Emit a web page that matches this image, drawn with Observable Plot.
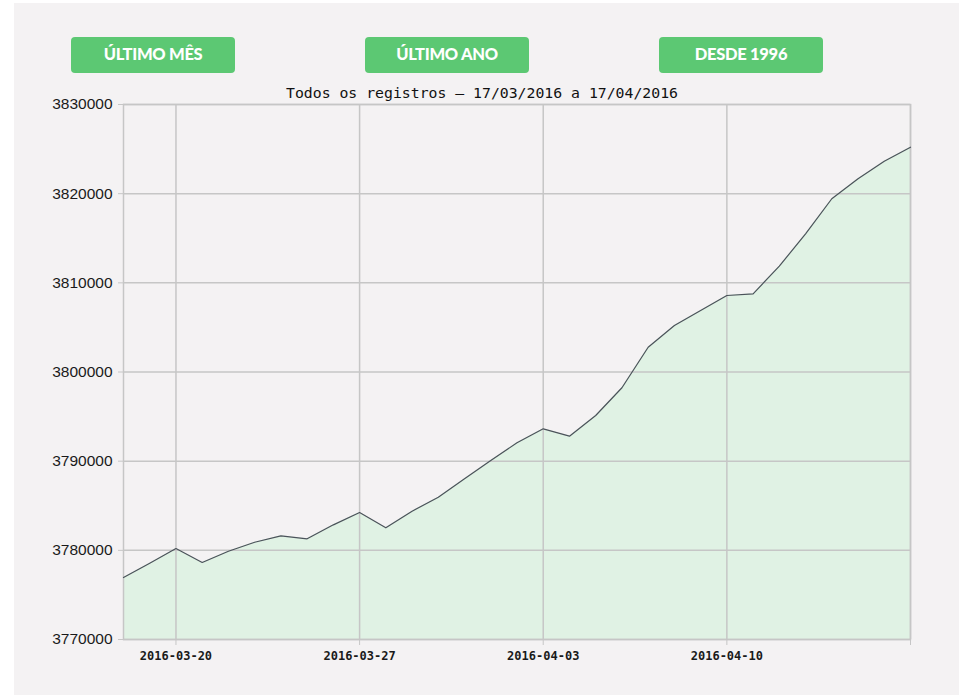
<!DOCTYPE html>
<html>
<head>
<meta charset="utf-8">
<script src="https://cdn.jsdelivr.net/npm/d3@7"></script>
<script src="https://cdn.jsdelivr.net/npm/@observablehq/plot@0.6"></script>
<style>
  html, body { margin: 0; padding: 0; background: #ffffff; width: 959px; height: 695px; overflow: hidden; }
  #panel { position: absolute; left: 14px; top: 3px; width: 945px; height: 692px; background: #f4f2f3; }
  .btn { position: absolute; top: 37px; width: 164px; height: 36px; background: #5cc873; border-radius: 4px;
         color: #ffffff; font-family: Lato, "Open Sans", sans-serif; font-weight: 900; font-size: 16.5px;
         line-height: 34px; text-align: center; letter-spacing: -0.3px; }
  #title { position: absolute; left: 0; width: 964px; top: 84px; text-align: center;
           font-family: "DejaVu Sans Mono", monospace; font-size: 14.8px; color: #111; }
  #chart { position: absolute; left: 0; top: 90px; }
</style>
</head>
<body>
<div id="panel"></div>
<div class="btn" style="left:71px">ÚLTIMO MÊS</div>
<div class="btn" style="left:365px">ÚLTIMO ANO</div>
<div class="btn" style="left:659px">DESDE 1996</div>
<div id="title">Todos os registros – 17/03/2016 a 17/04/2016</div>
<div id="chart"></div>
<script>
const dates = [
  "2016-03-18","2016-03-19","2016-03-20","2016-03-21","2016-03-22","2016-03-23","2016-03-24",
  "2016-03-25","2016-03-26","2016-03-27","2016-03-28","2016-03-29","2016-03-30","2016-03-31",
  "2016-04-01","2016-04-02","2016-04-03","2016-04-04","2016-04-05","2016-04-06","2016-04-07",
  "2016-04-08","2016-04-09","2016-04-10","2016-04-11","2016-04-12","2016-04-13","2016-04-14",
  "2016-04-15","2016-04-16","2016-04-17"
];
const values = [
  3776950, 3778560, 3780200, 3778640, 3779900, 3780910, 3781630,
  3781290, 3782860, 3784240, 3782530, 3784390, 3785960, 3788020,
  3790080, 3792060, 3793630, 3792800, 3795120, 3798230, 3802780,
  3805220, 3806900, 3808580, 3808770, 3811870, 3815500, 3819430,
  3821670, 3823640, 3825210
];
const xTicks = ["2016-03-20","2016-03-27","2016-04-03","2016-04-10","2016-04-17"];
const xTickLabels = ["2016-03-20","2016-03-27","2016-04-03","2016-04-10",""];
const yTicks = [3770000, 3780000, 3790000, 3800000, 3810000, 3820000, 3830000];

const data = dates.map((d, i) => ({date: new Date(d + "T00:00:00Z"), value: values[i]}));
const xTickDates = xTicks.map(d => new Date(d + "T00:00:00Z"));
const labelFor = d => {
  const i = xTickDates.findIndex(t => +t === +d);
  return i >= 0 ? xTickLabels[i] : "";
};

const chart = Plot.plot({
  width: 959,
  height: 580,
  marginLeft: 123,
  marginRight: 49,
  marginTop: 14,
  marginBottom: 31,
  style: {background: "transparent", overflow: "visible"},
  x: {type: "utc", domain: [new Date("2016-03-18T00:00:00Z"), new Date("2016-04-17T00:00:00Z")]},
  y: {domain: [3770000, 3830000]},
  marks: [
    Plot.areaY(data, {x: "date", y1: 3770000, y2: "value", fill: "#e0f2e4", fillOpacity: 1}),
    Plot.gridX(xTickDates, {stroke: "#c6c6c6", strokeOpacity: 1, strokeWidth: 1.5}),
    Plot.gridY(yTicks, {stroke: "#c6c6c6", strokeOpacity: 1, strokeWidth: 1.5}),
    Plot.frame({stroke: "#c6c6c6", strokeWidth: 1.5}),
    Plot.lineY(data, {x: "date", y: "value", stroke: "#4b525a", strokeWidth: 1.2}),
    Plot.axisY({ticks: yTicks, tickSize: 5, tickPadding: 6, stroke: "#c6c6c6", fill: "#1a1a1a",
                tickFormat: d3.format("d"), label: null,
                fontFamily: "'Liberation Sans', Arial, sans-serif", fontSize: 15.5}),
    Plot.axisX({ticks: xTickDates, tickSize: 6, tickPadding: 6, stroke: "#c6c6c6", fill: "#1a1a1a",
                tickFormat: labelFor, label: null,
                fontFamily: "'DejaVu Sans Mono', monospace", fontWeight: "bold", fontSize: 12})
  ]
});
document.getElementById("chart").appendChild(chart);
</script>
</body>
</html>
